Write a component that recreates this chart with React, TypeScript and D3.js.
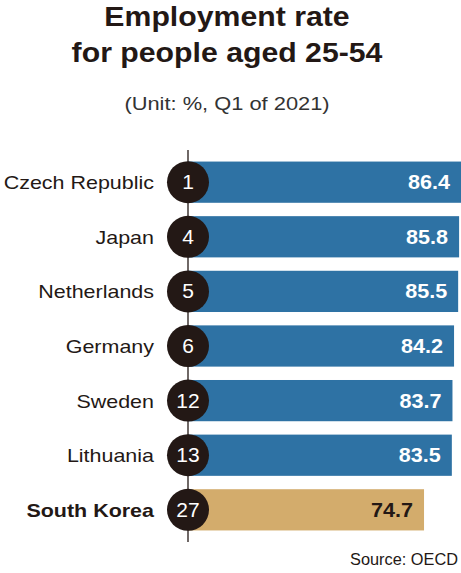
import React from "react";
import * as d3 from "d3";

const countries = ["Czech Republic", "Japan", "Netherlands", "Germany", "Sweden", "Lithuania", "South Korea"];
const ranks = [1, 4, 5, 6, 12, 13, 27];
const values = [86.4, 85.8, 85.5, 84.2, 83.7, 83.5, 74.7];
const highlight = "South Korea";

const W = 461;
const H = 573;
const FONT = "'Liberation Sans', Helvetica, Arial, sans-serif";
const DARK = "#231815";
const BLUE = "#2e72a4";
const GOLD = "#d3ac6c";

type TProps = {
  x: number;
  y: number;
  sx?: number;
  anchor?: "start" | "middle" | "end";
  size: number;
  bold?: boolean;
  fill: string;
  children: React.ReactNode;
};

function T({ x, y, sx = 1.13, anchor = "start", size, bold, fill, children }: TProps) {
  return (
    <text
      transform={`translate(${x},${y}) scale(${sx},1)`}
      textAnchor={anchor}
      fontSize={size}
      fontWeight={bold ? "bold" : "normal"}
      fill={fill}
    >
      {children}
    </text>
  );
}

export default function App() {
  const x = d3.scaleLinear().domain([0, 86.4]).range([188, 461]);
  const y = d3.scaleBand().domain(countries).range([155, 537]).paddingInner(0.245).paddingOuter(0.12);
  const bw = y.bandwidth();
  const x0 = x(0);

  return (
    <svg width={W} height={H} style={{ position: "absolute", left: 0, top: 0, fontFamily: FONT }}>
      <rect width={W} height={H} fill="#ffffff" />
      <T x={227} y={26} anchor="middle" size={27} bold fill={DARK} sx={1.12}>Employment rate</T>
      <T x={227} y={62} anchor="middle" size={27} bold fill={DARK} sx={1.12}>for people aged 25-54</T>
      <T x={227} y={110} anchor="middle" size={19} fill="#333" sx={1.15}>(Unit: %, Q1 of 2021)</T>

      {countries.map((c, i) => {
        const hl = c === highlight;
        return (
          <rect key={"b" + c} x={x0} y={y(c)!} width={x(values[i]) - x0} height={bw} fill={hl ? GOLD : BLUE} />
        );
      })}
      <line x1={x0} x2={x0} y1={150} y2={542} stroke={DARK} strokeWidth={1.3} />
      {countries.map((c, i) => {
        const hl = c === highlight;
        const cy = y(c)! + bw / 2;
        return (
          <g key={"g" + c}>
            <circle cx={x0} cy={cy} r={21} fill={DARK} />
            <T x={x0} y={cy + 7} anchor="middle" size={20} fill="#fff" sx={1.05}>{ranks[i]}</T>
            <T x={154} y={cy + 7} anchor="end" size={19} bold={hl} fill={DARK}>{c}</T>
            <T x={x(values[i]) - 11} y={cy + 7} anchor="end" size={20} bold fill={hl ? DARK : "#fff"} sx={1.08}>
              {values[i].toFixed(1)}
            </T>
          </g>
        );
      })}
      <T x={458} y={565} anchor="end" size={16} fill={DARK} sx={1.02}>Source: OECD</T>
    </svg>
  );
}
